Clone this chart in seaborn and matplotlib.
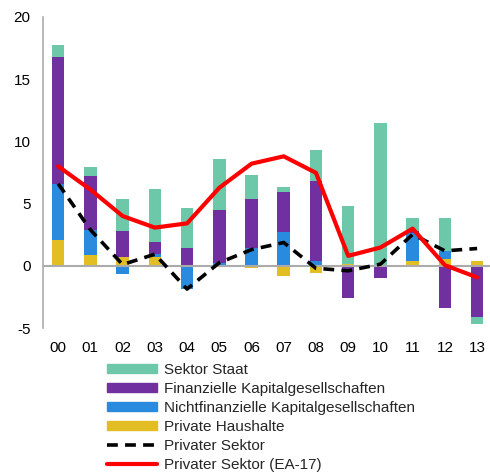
import matplotlib
matplotlib.use("Agg")
import matplotlib.pyplot as plt
import seaborn as sns
import numpy as np
from matplotlib.patches import Patch
from matplotlib.lines import Line2D

years = ['00', '01', '02', '03', '04', '05', '06', '07', '08', '09', '10', '11', '12', '13']
haushalte = [2.1, 0.9, 0.7, 0.72, 0.0, -0.12, -0.21, -0.8, -0.59, 0.15, 0.1, 0.4, 0.53, 0.4]
nichtfin = [4.45, 1.95, -0.67, 0.2, -1.85, 0.2, 1.47, 2.75, 0.35, 0.0, 0.0, 2.25, 0.67, 0.0]
finanz = [10.2, 4.35, 2.13, 1.0, 1.42, 4.25, 3.86, 3.2, 6.5, -2.59, -0.99, 0.15, -3.4, -4.15]
staat = [1.0, 0.72, 2.53, 4.28, 3.26, 4.16, 2.0, 0.37, 2.48, 4.65, 11.37, 1.08, 2.63, -0.54]
privat = [6.6, 2.9, 0.1, 0.93, -1.87, 0.25, 1.3, 1.87, -0.2, -0.4, 0.13, 2.53, 1.2, 1.39]
privat_ea17 = [8.0, 6.13, 4.0, 3.07, 3.41, 6.27, 8.21, 8.8, 7.47, 0.8, 1.47, 2.99, 0.05, -0.93]

labels = ['Private Haushalte', 'Nichtfinanzielle Kapitalgesellschaften',
          'Finanzielle Kapitalgesellschaften', 'Sektor Staat']
colors = ['#E2BE24', '#2A8ADD', '#7030A0', '#6DC8A9']
grey = '#ABABAB'

sns.set_theme(style="white")
plt.rcParams['font.family'] = ['Liberation Sans', 'DejaVu Sans']
plt.rcParams['axes.unicode_minus'] = False

fig = plt.figure(figsize=(4.9, 4.75), dpi=100)
ax = fig.add_axes([43 / 490, 1 - 328 / 475, 1 - 43 / 490, (328 - 17) / 475])

# stacked bars, positives upwards and negatives downwards
pos_base = np.zeros(len(years))
neg_base = np.zeros(len(years))
for vals, col in zip([haushalte, nichtfin, finanz, staat], colors):
    vals = np.array(vals)
    bottom = np.where(vals >= 0, pos_base, neg_base)
    sns.barplot(x=years, y=vals, bottom=bottom, color=col, width=0.39,
                saturation=1, ax=ax, linewidth=0)
    pos_base += np.clip(vals, 0, None)
    neg_base += np.clip(vals, None, 0)

xs = np.arange(len(years))
ax.axhline(0, color=grey, lw=1.5, zorder=1)
sns.lineplot(x=xs, y=privat, color='black', lw=2.6, ax=ax, dashes=(3, 2), zorder=5)
sns.lineplot(x=xs, y=privat_ea17, color='#FF0000', lw=3, ax=ax, zorder=6)

ax.set_ylim(-5, 20)
ax.set_xlim(-0.47, 13.4)
ax.set_yticks([-5, 0, 5, 10, 15, 20])
for s in ['top', 'right', 'bottom']:
    ax.spines[s].set_visible(False)
ax.spines['left'].set_color(grey)
ax.spines['left'].set_linewidth(1.2)
ax.tick_params(axis='both', length=0, labelsize=11, colors='black')
ax.tick_params(axis='y', pad=9)
ax.tick_params(axis='x', pad=9.5)
ax.set_xlabel('')
ax.set_ylabel('')

handles = [Patch(color=colors[3]), Patch(color=colors[2]), Patch(color=colors[1]),
           Patch(color=colors[0]),
           Line2D([], [], color='black', lw=2.6, dashes=(3, 2)),
           Line2D([], [], color='#FF0000', lw=3)]
names = [labels[3], labels[2], labels[1], labels[0], 'Privater Sektor', 'Privater Sektor (EA-17)']
fig.legend(handles, names, loc='upper left', bbox_to_anchor=(107 / 490, 1 - 363 / 475),
           frameon=False, fontsize=11, handlelength=3.3, handleheight=0.55,
           handletextpad=0.4, labelspacing=0.33, borderpad=0, borderaxespad=0)

fig.savefig('out.png', dpi=100)
